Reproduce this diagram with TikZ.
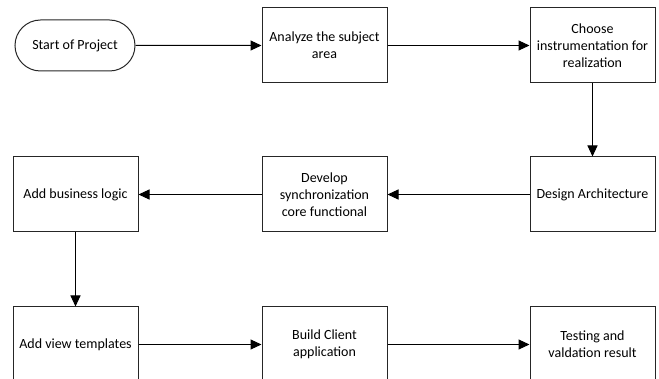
\documentclass[tikz,border=0pt]{standalone}
\usepackage{fontspec}
\setmainfont{Carlito}
\usetikzlibrary{arrows.meta,shapes.misc}

\begin{document}
\begin{tikzpicture}[x=1pt,y=1pt]
\tikzstyle{every node}=[font=\fontsize{14}{17}\selectfont, align=center, inner sep=2pt]
\tikzstyle{step box}=[draw=black!85, line width=1pt, minimum width=125pt, minimum height=75pt]
\tikzstyle{terminal}=[draw=black!85, line width=1pt, rounded rectangle, minimum width=124pt, minimum height=51pt]
\tikzstyle{flow}=[line width=1pt, -{Triangle[length=11pt,width=10pt]}]
\useasboundingbox (0,0) rectangle (659,-379);
\draw (75,-45.5) node (start) [terminal] {Start of Project};
\draw (324.5,-45.5) node (analyze) [step box] {Analyze the subject\\area};
\draw (592.5,-45.5) node (choose) [step box] {Choose\\instrumentation for\\realization};
\draw (592.5,-194.5) node (design) [step box] {Design Architecture};
\draw (324.5,-194.5) node (develop) [step box] {Develop\\synchronization\\core functional};
\draw (75.5,-194.5) node (logic) [step box] {Add business logic};
\draw (75.5,-344.5) node (views) [step box] {Add view templates};
\draw (324.5,-344.5) node (client) [step box] {Build Client\\application};
\draw (592.5,-344.5) node (testing) [step box] {Testing and\\valdation result};
\draw [flow] (start) -- (analyze);
\draw [flow] (analyze) -- (choose);
\draw [flow] (choose) -- (design);
\draw [flow] (design) -- (develop);
\draw [flow] (develop) -- (logic);
\draw [flow] (logic) -- (views);
\draw [flow] (views) -- (client);
\draw [flow] (client) -- (testing);
\end{tikzpicture}
\end{document}
